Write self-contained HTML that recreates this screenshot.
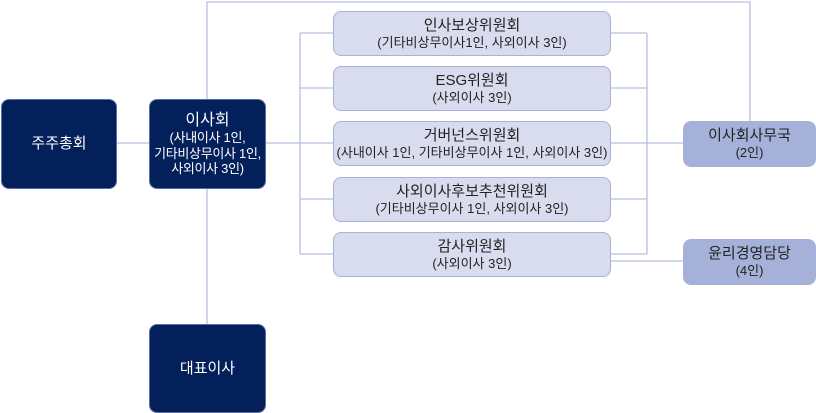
<!DOCTYPE html>
<html><head><meta charset="utf-8"><style>
body{margin:0;width:816px;height:413px;background:#fff;position:relative;overflow:hidden;font-family:"Liberation Sans","Noto Sans CJK KR",sans-serif}
.b{position:absolute;box-sizing:border-box;border-radius:8px;display:flex;flex-direction:column;align-items:center;justify-content:center;text-align:center;line-height:1.2}
.d{background:#03205b;color:#fff;border:1px solid #5a6ea0;font-size:14px}
.c{background:#d9dcee;border:1px solid #a7b2da;color:#222;font-size:15px;left:333px;width:278px;height:45px}
.c small,.r small{font-size:13px}
.r{background:#a5b1d9;border:1px solid #a5b1d9;color:#222;font-size:15px;left:683px;width:133px;height:46px}
svg{position:absolute;left:0;top:0}
</style></head><body>
<svg width="816" height="413"><g stroke="#b6c0de" stroke-width="1.3" fill="none">
<path d="M116 143H149M265 143H300M300 33V254M300 33H333M300 88H333M300 143H333M300 199H333M300 254H333"/>
<path d="M207 99V2H750V121M207 188V324"/>
<path d="M610 33H647M610 88H647M610 143H683M610 199H647M610 254H647M647 33V254M610 261H683"/>
</g></svg>
<div class="b d" style="left:1px;top:99px;width:116px;height:90px;font-size:15px">주주총회</div>
<div class="b d" style="left:149px;top:99px;width:117px;height:90px"><span style="font-size:16px">이사회</span><span style="font-size:13px;letter-spacing:-0.3px">(사내이사 1인,<br>기타비상무이사 1인,<br>사외이사 3인)</span></div>
<div class="b d" style="left:149px;top:324px;width:117px;height:89px;font-size:15px">대표이사</div>
<div class="b c" style="top:11px">인사보상위원회<small>(기타비상무이사1인, 사외이사 3인)</small></div>
<div class="b c" style="top:66px">ESG위원회<small>(사외이사 3인)</small></div>
<div class="b c" style="top:121px">거버넌스위원회<small style="white-space:nowrap">(사내이사 1인, 기타비상무이사 1인, 사외이사 3인)</small></div>
<div class="b c" style="top:177px">사외이사후보추천위원회<small>(기타비상무이사 1인, 사외이사 3인)</small></div>
<div class="b c" style="top:232px">감사위원회<small>(사외이사 3인)</small></div>
<div class="b r" style="top:121px">이사회사무국<small>(2인)</small></div>
<div class="b r" style="top:239px">윤리경영담당<small>(4인)</small></div>
</body></html>
